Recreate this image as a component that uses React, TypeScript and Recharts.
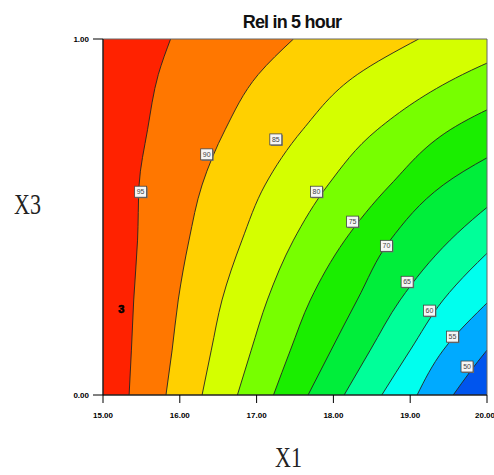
import { ComposedChart, Area, Scatter, XAxis, YAxis, CartesianGrid, ReferenceArea } from "recharts"

// X3 levels at which the contour positions were taken
const x3Levels = [0, 0.126, 0.267, 0.435, 0.59, 0.745, 0.9, 1]

// X1 position of each contour line at the X3 levels above (lines leave the plot on the right)
const contour1 = [15.34, 15.37, 15.4, 15.45, 15.47, 15.58, 15.72, 15.88]
const contour2 = [15.82, 15.9, 15.98, 16.12, 16.29, 16.59, 17.02, 17.48]
const contour3 = [16.29, 16.41, 16.55, 16.81, 17.11, 17.6, 18.31, 19.11]
const contour4 = [16.75, 16.93, 17.14, 17.48, 17.93, 18.57, 19.68, 20.75]
const contour5 = [17.22, 17.44, 17.7, 18.15, 18.74, 19.52, 21.0, 22.0]
const contour6 = [17.67, 17.97, 18.31, 18.74, 19.43, 20.67, 22.0, 23.0]
const contour7 = [18.14, 18.48, 18.87, 19.52, 20.37, 21.4, 22.6, 23.5]
const contour8 = [18.63, 19.0, 19.43, 20.18, 21.0, 22.0, 23.2, 24.0]
const contour9 = [19.09, 19.43, 20.04, 20.9, 21.8, 22.8, 23.8, 24.6]
const contour10 = [19.56, 20.0, 20.6, 21.4, 22.2, 23.0, 23.8, 24.4]

const contours = [contour1, contour2, contour3, contour4, contour5, contour6, contour7, contour8, contour9, contour10]

// contour values and where their tags sit
const contourValues = [95, 90, 85, 80, 75, 70, 65, 60, 55, 50]
const tagX1 = [15.49, 16.35, 17.25, 17.78, 18.25, 18.69, 18.96, 19.25, 19.55, 19.74]
const tagX3 = [0.571, 0.676, 0.718, 0.571, 0.487, 0.419, 0.318, 0.237, 0.164, 0.08]

// design point
const designX1 = [15.24]
const designX3 = [0.242]
const designCount = [3]

const xTicks = [15, 16, 17, 18, 19, 20]
const yTicks = [0, 1]

// band colours, left (highest) to right (lowest)
const bandColors = [
  "#ff2200",
  "#ff7700",
  "#ffd000",
  "#d4ff00",
  "#77ff00",
  "#1aee00",
  "#00ee3a",
  "#00ff99",
  "#00ffee",
  "#00aaff",
  "#0055ee",
]

const data = x3Levels.map((x3, i) => {
  const row: Record<string, number> = { x3 }
  contours.forEach((c, k) => {
    row[`c${k + 1}`] = c[i]
  })
  return row
})

const tags = contourValues.map((v, i) => ({ x3: tagX3[i], lx: tagX1[i], v }))
const designPoints = designCount.map((n, i) => ({ x3: designX3[i], lx: designX1[i], n }))

const tickStyle = { fill: "#000", fontSize: 8, fontWeight: 700, fontFamily: "Liberation Sans, Arial, sans-serif" }

const ContourTag = (props: any) => {
  const { cx, cy, payload } = props
  return (
    <g>
      <rect x={cx - 5} y={cy - 4.5} width={12} height={11} fill="#777" />
      <rect x={cx - 6} y={cy - 5.5} width={12} height={11} fill="#f6f6f6" stroke="#444" strokeWidth={0.8} />
      <text
        x={cx}
        y={cy + 2.5}
        textAnchor="middle"
        fontSize={7}
        fill="#444"
        fontFamily="Liberation Sans, Arial, sans-serif"
      >
        {payload.v}
      </text>
    </g>
  )
}

const DesignMark = (props: any) => {
  const { cx, cy, payload } = props
  return (
    <text
      x={cx}
      y={cy + 4}
      textAnchor="middle"
      fontSize={11}
      fontWeight={700}
      fill="#000"
      stroke="#000"
      strokeWidth={0.6}
      fontFamily="Liberation Sans, Arial, sans-serif"
    >
      {payload.n}
    </text>
  )
}

export default function App() {
  const order = contours.map((_, k) => k).reverse()
  return (
    <div style={{ position: "absolute", left: 0, top: 0, width: 494, height: 475, background: "#fff" }}>
      <ComposedChart
        width={494}
        height={475}
        layout="vertical"
        data={data}
        margin={{ top: 39, right: 7, left: 43, bottom: 50 }}
      >
        <CartesianGrid horizontal={false} vertical={false} fill={bandColors[10]} />
        <XAxis
          type="number"
          domain={[15, 20]}
          ticks={xTicks}
          allowDataOverflow
          height={30}
          tickSize={8}
          tickMargin={9}
          stroke="#000"
          tick={tickStyle}
          tickFormatter={(v: number) => v.toFixed(2)}
        />
        <YAxis
          type="number"
          dataKey="x3"
          domain={[0, 1]}
          ticks={yTicks}
          reversed
          allowDataOverflow
          width={60}
          tickSize={10}
          tickMargin={4}
          stroke="#000"
          tick={tickStyle}
          tickFormatter={(v: number) => v.toFixed(2)}
        />
        {order.map((k) => (
          <Area
            key={k}
            type="monotone"
            dataKey={`c${k + 1}`}
            fill={bandColors[k]}
            fillOpacity={1}
            stroke="#222"
            strokeWidth={0.9}
            dot={false}
            activeDot={false}
            isAnimationActive={false}
          />
        ))}
        <ReferenceArea x1={15} x2={20} y1={0} y2={1} fill="none" fillOpacity={0} stroke="#666" strokeWidth={1} />
        <Scatter data={tags} dataKey="lx" shape={<ContourTag />} isAnimationActive={false} />
        <Scatter data={designPoints} dataKey="lx" shape={<DesignMark />} isAnimationActive={false} />
      </ComposedChart>
      <svg
        width={494}
        height={475}
        style={{ position: "absolute", left: 0, top: 0, pointerEvents: "none" }}
      >
        <text
          x={292}
          y={28}
          textAnchor="middle"
          fontSize={18}
          fontWeight={700}
          letterSpacing={-0.8}
          fill="#111"
          fontFamily="Liberation Sans, Arial, sans-serif"
        >
          Rel in 5 hour
        </text>
        <text
          transform="translate(27.5,214) scale(1,1.3)"
          textAnchor="middle"
          fontSize={22}
          fill="#222"
          fontFamily="Liberation Serif, Times New Roman, serif"
        >
          X3
        </text>
        <text
          transform="translate(288.5,467) scale(1,1.3)"
          textAnchor="middle"
          fontSize={22}
          fill="#222"
          fontFamily="Liberation Serif, Times New Roman, serif"
        >
          X1
        </text>
      </svg>
    </div>
  )
}
